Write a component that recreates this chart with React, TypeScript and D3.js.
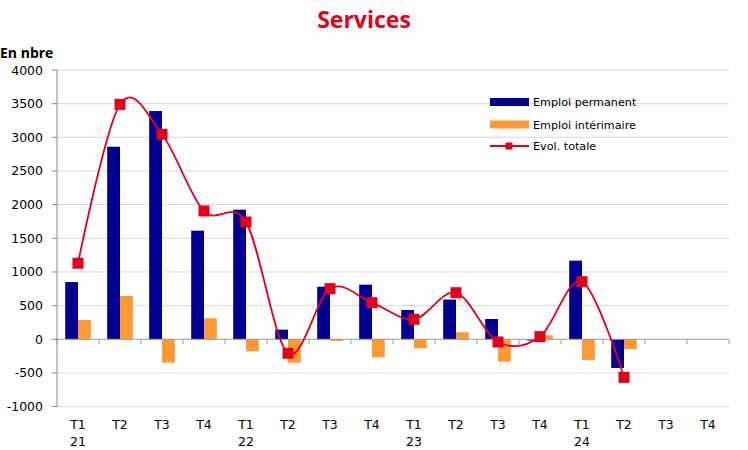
import React from "react";
import * as d3 from "d3";

const quarters = ["T1", "T2", "T3", "T4", "T1", "T2", "T3", "T4", "T1", "T2", "T3", "T4", "T1", "T2", "T3", "T4"];
const years = ["21", "", "", "", "22", "", "", "", "23", "", "", "", "24", "", "", ""];
const emploiPermanent: (number | null)[] = [850, 2860, 3390, 1613, 1925, 143, 781, 811, 435, 590, 301, -20, 1168, -426, null, null];
const emploiInterimaire: (number | null)[] = [287, 643, -347, 312, -178, -347, -25, -268, -134, 105, -332, 59, -307, -149, null, null];
const evolTotale: (number | null)[] = [1130, 3490, 3045, 1906, 1742, -208, 752, 544, 297, 692, -40, 39, 856, -565, null, null];
const yTicks = [-1000, -500, 0, 500, 1000, 1500, 2000, 2500, 3000, 3500, 4000];

const W = 748;
const H = 450;
const BLUE = "#000090";
const ORANGE = "#FF9933";
const RED = "#E2001A";
const FONT = "'DejaVu Sans', sans-serif";

export default function App() {
  const left = 57;
  const right = 729;
  const top = 70;
  const bottom = 406.6;
  const idx = quarters.map((_, i) => String(i));
  const x0 = d3.scaleBand<string>().domain(idx).range([left, right]).padding(0);
  const x1 = d3.scaleBand<string>().domain(["p", "i"]).range([0, x0.bandwidth()]).paddingInner(0).paddingOuter(0.64);
  const y = d3.scaleLinear().domain([-1000, 4000]).range([bottom, top]);
  const y0 = y(0);

  const pts: [number, number][] = [];
  evolTotale.forEach((v, i) => {
    if (v !== null) pts.push([(x0(String(i)) as number) + x0.bandwidth() / 2, y(v)]);
  });
  const line = d3.line().curve(d3.curveCardinal.tension(0))(pts) || "";

  const bar = (vals: (number | null)[], key: string, color: string) =>
    vals.map((v, i) =>
      v === null ? null : (
        <rect
          key={key + i}
          x={(x0(String(i)) as number) + (x1(key) as number)}
          y={Math.min(y(v), y0)}
          width={x1.bandwidth()}
          height={Math.abs(y(v) - y0)}
          fill={color}
        />
      )
    );

  return (
    <svg width={W} height={H} style={{ position: "absolute", left: 0, top: 0 }}>
      <rect width={W} height={H} fill="#fff" />
      <text x={364} y={28} textAnchor="middle" fontFamily="'Open Sans', sans-serif" fontWeight="bold" fontSize={23} fill={RED}>
        Services
      </text>
      <text x={0} y={58} fontFamily="'Open Sans', sans-serif" fontWeight="bold" fontSize={14} fill="#000">
        En nbre
      </text>
      {yTicks.map((t) => (
        <g key={t}>
          {t !== 0 && <line x1={left} x2={right} y1={y(t)} y2={y(t)} stroke="#D9D9D9" strokeWidth={1} />}
          <line x1={left - 5} x2={left} y1={y(t)} y2={y(t)} stroke="#888" strokeWidth={1} />
          <text x={43} y={y(t)} dy="0.36em" textAnchor="end" fontFamily={FONT} fontSize={12.5} fill="#000">
            {t}
          </text>
        </g>
      ))}
      <line x1={left} x2={left} y1={top} y2={bottom} stroke="#888" strokeWidth={1} />
      {bar(emploiPermanent, "p", BLUE)}
      {bar(emploiInterimaire, "i", ORANGE)}
      <line x1={left} x2={right} y1={y0} y2={y0} stroke="#999" strokeWidth={1} />
      {idx.map((k) => (
        <line key={"t" + k} x1={x0(k) as number} x2={x0(k) as number} y1={y0} y2={y0 + 5} stroke="#999" strokeWidth={1} />
      ))}
      <line x1={right} x2={right} y1={y0} y2={y0 + 5} stroke="#999" strokeWidth={1} />
      <path d={line} fill="none" stroke={RED} strokeWidth={1.8} />
      {pts.map(([px, py], i) => (
        <rect key={"m" + i} x={px - 5.5} y={py - 5.5} width={11} height={11} fill={RED} />
      ))}
      {idx.map((k, i) => (
        <g key={"l" + k}>
          <text x={(x0(k) as number) + x0.bandwidth() / 2} y={429} textAnchor="middle" fontFamily={FONT} fontSize={12.5} fill="#000">
            {quarters[i]}
          </text>
          {years[i] && (
            <text x={(x0(k) as number) + x0.bandwidth() / 2} y={446} textAnchor="middle" fontFamily={FONT} fontSize={12.5} fill="#000">
              {years[i]}
            </text>
          )}
        </g>
      ))}
      <g fontFamily={FONT} fontSize={11.2} fill="#000">
        <rect x={490} y={98} width={39} height={8} fill={BLUE} />
        <text x={533} y={106}>Emploi permanent</text>
        <rect x={490} y={120.5} width={39} height={8} fill={ORANGE} />
        <text x={533} y={128.5}>Emploi intérimaire</text>
        <line x1={490} x2={529} y1={146} y2={146} stroke={RED} strokeWidth={1.8} />
        <rect x={505.5} y={142.5} width={7} height={7} fill={RED} />
        <text x={533} y={150}>Evol. totale</text>
      </g>
    </svg>
  );
}
